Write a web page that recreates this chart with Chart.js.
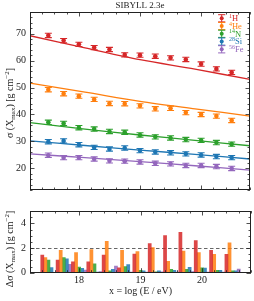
<!DOCTYPE html>
<html><head><meta charset="utf-8">
<script src="https://cdn.jsdelivr.net/npm/chart.js@4"></script>
<style>
html,body{margin:0;padding:0;background:#fff;}
#wrap{position:relative;width:254px;height:301px;overflow:hidden;}
#c1{position:absolute;left:0;top:0;}
#c2{position:absolute;left:0;top:200px;}
</style></head><body>
<div id="wrap"><canvas id="c1" width="254" height="200"></canvas><canvas id="c2" width="254" height="101"></canvas></div>
<script>
// ---- data ----
const energy = [17.5, 17.75, 18, 18.25, 18.5, 18.75, 19, 19.25, 19.5, 19.75, 20, 20.25, 20.5];
const massNumbers = ['1', '4', '14', '28', '56'];
const elements = ['H', 'He', 'N', 'Si', 'Fe'];

const sigmaH  = [69.3, 67.4, 66.0, 64.8, 64.1, 62.1, 62.0, 61.6, 61.0, 60.4, 58.7, 56.9, 55.6];
const sigmaHe = [49.2, 47.7, 46.8, 45.6, 44.1, 44.0, 43.2, 42.1, 42.3, 40.7, 40.0, 39.4, 37.8];
const sigmaN  = [37.1, 36.7, 35.1, 34.6, 33.7, 33.4, 32.4, 31.7, 31.3, 30.7, 30.4, 29.6, 29.0];
const sigmaSi = [29.9, 30.2, 28.8, 27.8, 27.2, 27.6, 26.6, 26.1, 25.8, 25.4, 25.0, 24.4, 24.0];
const sigmaFe = [24.9, 24.0, 24.0, 23.5, 22.8, 22.7, 22.4, 21.9, 21.7, 21.1, 21.1, 20.7, 20.0];
const sigmaErr = [0.8, 0.8, 0.8, 0.8, 0.8, 0.8, 0.8, 0.8, 0.8, 0.8, 0.8, 0.8, 0.8];

const fitX   = [17.2, 18.1, 19.0, 19.9, 20.8];
const fitH   = [69.2, 64.7, 60.3, 56.8, 53.0];
const fitHe  = [51.6, 48.3, 44.9, 42.1, 39.4];
const fitN   = [37.0, 34.6, 32.4, 30.4, 28.4];
const fitSi  = [30.2, 28.5, 26.8, 25.2, 23.5];
const fitFe  = [25.4, 24.0, 22.5, 21.0, 19.4];

const deltaH  = [1.42, 1.02, 0.88, 0.88, 1.42, 0.40, 1.50, 2.35, 3.00, 3.28, 2.61, 1.82, 1.48];
const deltaHe = [1.23, 1.82, 1.63, 1.87, 2.54, 1.82, 1.71, 2.03, 0.93, 1.76, 1.63, 1.49, 2.43];
const deltaN  = [1.02, 1.23, 0.45, 0.72, 0.16, 0.50, 0.20, 0.08, 0.28, 0.27, 0.40, 0.20, 0.15];
const deltaSi = [0.42, 1.13, 0.35, 0.05, 0.27, 0.66, 0.15, 0.15, 0.20, 0.43, 0.37, 0.20, 0.15];
const deltaFe = [0.03, 0.67, 0.22, 0.10, 0.54, 0.05, 0.05, 0.08, 0.05, 0.10, 0.05, 0.05, 0.30];

const xTicks = [18, 19, 20];
const yTicksTop = [20, 30, 40, 50, 60, 70];
const yTicksBottom = [0, 2, 4];
const deltaReference = 2;

// ---- styles ----
const colors = ['#d62728', '#ff7f0e', '#2ca02c', '#1f77b4', '#9467bd'];
const barColors = ['rgba(214,39,40,0.85)', 'rgba(255,127,14,0.85)', 'rgba(44,160,44,0.85)', 'rgba(31,119,180,0.85)', 'rgba(148,103,189,0.85)'];
const FAM = '"Liberation Serif", "DejaVu Serif", serif';
const sigmaSeries = [sigmaH, sigmaHe, sigmaN, sigmaSi, sigmaFe];
const fitSeries = [fitH, fitHe, fitN, fitSi, fitFe];
const deltaSeries = [deltaH, deltaHe, deltaN, deltaSi, deltaFe];

function richWidth(ctx, segs, size) {
  let w = 0;
  for (const [t, m] of segs) { ctx.font = (m ? size * 0.7 : size) + 'px ' + FAM; w += ctx.measureText(t).width; }
  return w;
}
function drawRich(ctx, segs, x, y, size, align) {
  const w = richWidth(ctx, segs, size);
  let cx = align === 'center' ? x - w / 2 : x;
  ctx.textAlign = 'left'; ctx.textBaseline = 'alphabetic';
  for (const [t, m] of segs) {
    const s = m ? size * 0.7 : size;
    ctx.font = s + 'px ' + FAM;
    const dy = m === 1 ? -size * 0.38 : (m === -1 ? size * 0.22 : 0);
    ctx.fillText(t, cx, y + dy);
    cx += ctx.measureText(t).width;
  }
}

function frameTicks(xStep, yStep) {
  return {
    id: 'frameTicks',
    afterDraw(chart) {
      const { ctx, chartArea: a, scales: { x, y } } = chart;
      ctx.save();
      ctx.strokeStyle = '#222'; ctx.lineWidth = 1;
      ctx.strokeRect(Math.round(a.left) + 0.5, Math.round(a.top) + 0.5, Math.round(a.right - a.left) - 1, Math.round(a.bottom - a.top) - 1);
      ctx.lineWidth = 0.8;
      ctx.beginPath();
      const nx = Math.round((x.max - x.min) / xStep);
      for (let i = 0; i <= nx; i++) {
        const v = x.min + i * xStep;
        const major = Math.abs(v - Math.round(v)) < 1e-6;
        const L = major ? 4.5 : 2.5;
        const px = Math.round(x.getPixelForValue(v)) + 0.5;
        ctx.moveTo(px, a.bottom); ctx.lineTo(px, a.bottom - L);
        ctx.moveTo(px, a.top); ctx.lineTo(px, a.top + L);
      }
      const y0 = Math.ceil(y.min / yStep - 1e-6);
      const y1 = Math.floor(y.max / yStep + 1e-6);
      for (let k = y0; k <= y1; k++) {
        const v = k * yStep;
        const major = (chart.$majorY || []).some(m => Math.abs(m - v) < 1e-6);
        const L = major ? 4.5 : 2.5;
        const py = Math.round(y.getPixelForValue(v)) + 0.5;
        ctx.moveTo(a.left, py); ctx.lineTo(a.left + L, py);
        ctx.moveTo(a.right, py); ctx.lineTo(a.right - L, py);
      }
      ctx.stroke();
      ctx.restore();
    }
  };
}

const errorBars = {
  id: 'errorBars',
  afterDatasetsDraw(chart) {
    const { ctx, scales: { y } } = chart;
    ctx.save();
    chart.data.datasets.forEach((ds, di) => {
      if (!ds.errors) return;
      const meta = chart.getDatasetMeta(di);
      ctx.strokeStyle = ds.borderColor; ctx.lineWidth = 1.1;
      meta.data.forEach((pt, i) => {
        const v = ds.data[i].y, e = ds.errors[i];
        const yt = y.getPixelForValue(v + e), yb = y.getPixelForValue(v - e);
        ctx.beginPath();
        ctx.moveTo(pt.x, yt); ctx.lineTo(pt.x, yb);
        ctx.moveTo(pt.x - 3.5, yt); ctx.lineTo(pt.x + 3.5, yt);
        ctx.moveTo(pt.x - 3.5, yb); ctx.lineTo(pt.x + 3.5, yb);
        ctx.stroke();
      });
    });
    ctx.restore();
  }
};

const topDecor = {
  id: 'topDecor',
  afterDraw(chart) {
    const { ctx, chartArea: a } = chart;
    ctx.save();
    ctx.fillStyle = '#222';
    ctx.font = '9px ' + FAM; ctx.textAlign = 'center'; ctx.textBaseline = 'middle';
    ctx.fillText('SIBYLL 2.3e', (a.left + a.right) / 2, 6);
    // y label
    ctx.save();
    ctx.translate(9, 103);
    ctx.rotate(-Math.PI / 2);
    drawRich(ctx, [['\u03C3 (X', 0], ['max', -1], [') [g cm', 0], ['\u22122', 1], [']', 0]], 0, 3.5, 10, 'center');
    ctx.restore();
    // legend
    for (let i = 0; i < 5; i++) {
      const cy = 18.3 + i * 7.75, cx = 221.7;
      ctx.strokeStyle = colors[i]; ctx.fillStyle = colors[i]; ctx.lineWidth = 1;
      ctx.beginPath();
      ctx.moveTo(cx, cy - 3.6); ctx.lineTo(cx, cy + 3.6);
      ctx.moveTo(cx - 3.6, cy - 3.6); ctx.lineTo(cx + 3.6, cy - 3.6);
      ctx.moveTo(cx - 3.6, cy + 3.6); ctx.lineTo(cx + 3.6, cy + 3.6);
      ctx.stroke();
      ctx.beginPath(); ctx.arc(cx, cy, 2, 0, Math.PI * 2); ctx.fill();
      drawRich(ctx, [[massNumbers[i], 1], [elements[i], 0]], 229, cy + 2.8, 8.5, 'left');
    }
    ctx.restore();
  }
};

const bottomDecor = {
  id: 'bottomDecor',
  beforeDatasetsDraw(chart) {
    const { ctx, chartArea: a, scales: { y } } = chart;
    const py = Math.round(y.getPixelForValue(deltaReference)) + 0.5;
    ctx.save();
    ctx.strokeStyle = '#555'; ctx.lineWidth = 0.9; ctx.setLineDash([3.5, 2.5]);
    ctx.beginPath(); ctx.moveTo(a.left, py); ctx.lineTo(a.right, py); ctx.stroke();
    ctx.restore();
  },
  afterDraw(chart) {
    const { ctx, chartArea: a } = chart;
    ctx.save();
    ctx.fillStyle = '#222';
    ctx.font = '10px ' + FAM; ctx.textAlign = 'center'; ctx.textBaseline = 'middle';
    ctx.fillText('x = log (E / eV)', (a.left + a.right) / 2, 91);
    ctx.save();
    ctx.translate(9, 49);
    ctx.rotate(-Math.PI / 2);
    drawRich(ctx, [['\u0394\u03C3 (X', 0], ['max', -1], [') [g cm', 0], ['\u22122', 1], [']', 0]], 0, 3.5, 10, 'center');
    ctx.restore();
    ctx.restore();
  }
};

const tickFont = { family: FAM, size: 10 };

// ---- top chart ----
const topDatasets = [];
for (let s = 0; s < 5; s++) {
  topDatasets.push({
    type: 'scatter',
    data: energy.map((e, i) => ({ x: e, y: sigmaSeries[s][i] })),
    errors: sigmaErr,
    backgroundColor: colors[s], borderColor: colors[s],
    pointRadius: 2.3, pointBorderWidth: 0, order: 0
  });
  topDatasets.push({
    type: 'line',
    data: fitX.map((e, i) => ({ x: e, y: fitSeries[s][i] })),
    borderColor: colors[s], borderWidth: 1.3, pointRadius: 0, fill: false, tension: 0.3, order: 1
  });
}

const c1 = new Chart(document.getElementById('c1'), {
  type: 'scatter',
  data: { datasets: topDatasets },
  options: {
    responsive: false, animation: false, devicePixelRatio: 1,
    layout: { padding: { top: 12, right: 3, bottom: 2, left: 0 } },
    plugins: { legend: { display: false }, tooltip: { enabled: false }, title: { display: false } },
    scales: {
      x: { type: 'linear', min: 17.2, max: 20.8, display: false },
      y: {
        type: 'linear', min: 12, max: 78,
        grid: { display: false, drawTicks: false }, border: { display: false },
        ticks: { font: tickFont, color: '#222', padding: 4 },
        afterBuildTicks: s => { s.ticks = yTicksTop.map(v => ({ value: v })); },
        afterFit: s => { s.width = 30; }
      }
    }
  },
  plugins: [frameTicks(0.2, 2), errorBars, topDecor]
});
c1.$majorY = yTicksTop; c1.draw();

// ---- bottom chart ----
const c2 = new Chart(document.getElementById('c2'), {
  type: 'bar',
  data: {
    datasets: deltaSeries.map((arr, s) => ({
      data: energy.map((e, i) => ({ x: e, y: arr[i] })),
      backgroundColor: barColors[s], borderWidth: 0,
      categoryPercentage: 1, barPercentage: 1
    }))
  },
  options: {
    responsive: false, animation: false, devicePixelRatio: 1,
    layout: { padding: { top: 11, right: 3, bottom: 0, left: 0 } },
    plugins: { legend: { display: false }, tooltip: { enabled: false } },
    scales: {
      x: {
        type: 'linear', min: 17.2, max: 20.8, offset: false,
        grid: { display: false, drawTicks: false }, border: { display: false },
        ticks: { font: tickFont, color: '#222', padding: 2 },
        afterBuildTicks: s => { s.ticks = xTicks.map(v => ({ value: v })); },
        afterFit: s => { s.height = 28.3; }
      },
      y: {
        type: 'linear', min: 0, max: 5,
        grid: { display: false, drawTicks: false }, border: { display: false },
        ticks: { font: tickFont, color: '#222', padding: 4 },
        afterBuildTicks: s => { s.ticks = yTicksBottom.map(v => ({ value: v })); },
        afterFit: s => { s.width = 30; }
      }
    }
  },
  plugins: [frameTicks(0.2, 0.5), bottomDecor]
});
c2.$majorY = yTicksBottom; c2.draw();
</script>
</body></html>
